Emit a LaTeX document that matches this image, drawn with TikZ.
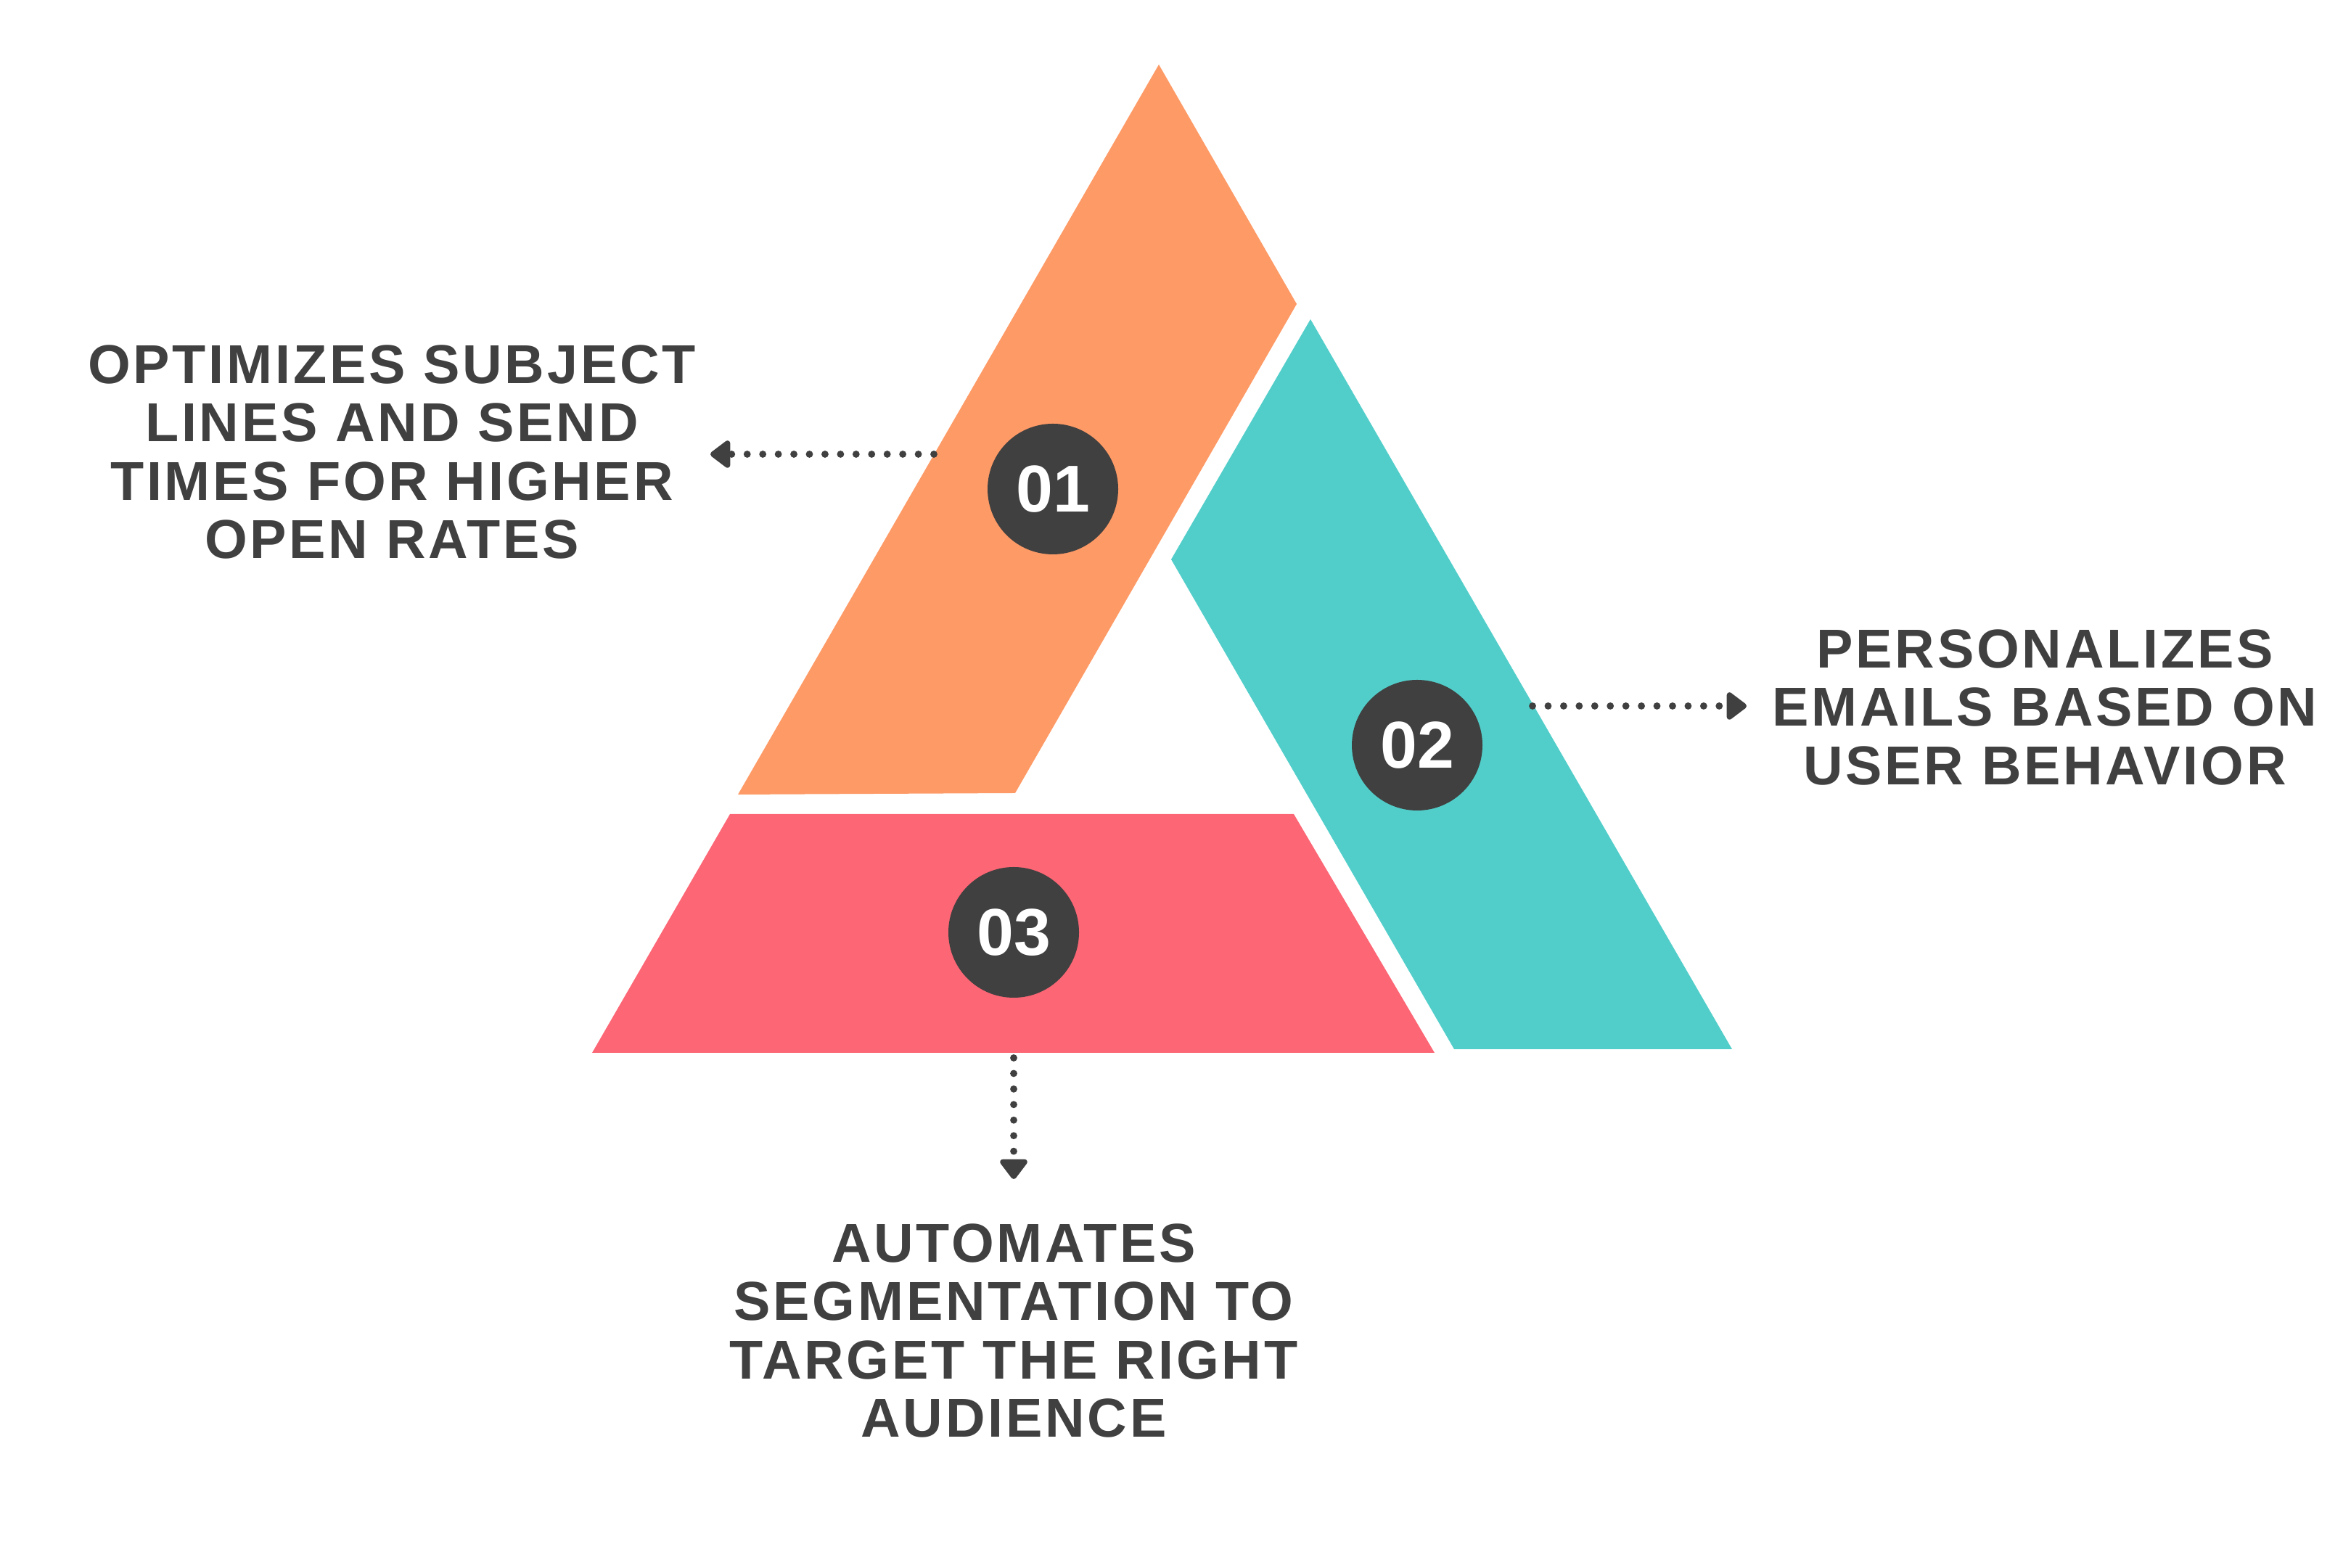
\documentclass[tikz,border=0pt]{standalone}
\usepackage{fontspec}
\setmainfont{Liberation Sans}
\newfontfamily\capfont{Liberation Sans}[LetterSpace=5]
\usetikzlibrary{arrows.meta,positioning,calc}
\definecolor{ink}{RGB}{64,64,64}
\definecolor{peach}{RGB}{254,154,102}
\definecolor{aqua}{RGB}{82,206,202}
\definecolor{coral}{RGB}{252,102,117}
\tikzset{
  badge/.style={circle, fill=ink, text=white, minimum size=18mm, inner sep=0pt,
    font=\fontsize{26}{26}\selectfont\bfseries},
  caption/.style={text=ink, align=center, inner sep=0pt,
    font=\capfont\fontsize{21.5}{22.9}\selectfont\bfseries},
  flow/.style={draw=ink, line width=2.8pt, line cap=round,
    dash pattern=on 0pt off 6.1pt,
    -{Triangle[length=3mm,width=4.3mm,round]}},
}

\begin{document}
\begin{tikzpicture}
  \useasboundingbox (0,0) rectangle (32.4,21.6);
  % three pieces of the broken triangle
  \fill[peach] (15.97,20.71) -- (17.87,17.41) -- (13.99,10.67) -- (10.17,10.65) -- cycle;
  \fill[aqua] (18.06,17.20) -- (23.87,7.14) -- (20.04,7.14) -- (16.14,13.89) -- cycle;
  \fill[coral] (10.06,10.38) -- (17.83,10.38) -- (19.77,7.09) -- (8.16,7.09) -- cycle;

  \node[badge] (n1) at (14.51,14.86) {01};
  \node[badge] (n2) at (19.53,11.33) {02};
  \node[badge] (n3) at (13.97,8.75) {03};

  \node[caption] (t1) at (5.40,15.37) {OPTIMIZES SUBJECT\\LINES AND SEND\\TIMES FOR HIGHER\\OPEN RATES};
  \node[caption] (t2) at (28.18,11.85) {PERSONALIZES\\EMAILS BASED ON\\USER BEHAVIOR};
  \node[caption] (t3) at (13.97,3.26) {AUTOMATES\\SEGMENTATION TO\\TARGET THE RIGHT\\AUDIENCE};

  \coordinate (a1) at (12.87,15.34);
  \coordinate (b1) at (9.79,15.34);
  \coordinate (a2) at (21.12,11.87);
  \coordinate (b2) at (24.07,11.87);
  \coordinate (a3) at (13.97,7.02);
  \coordinate (b3) at (13.97,5.35);
  \draw[flow] (a1) -- (b1);
  \draw[flow] (a2) -- (b2);
  \draw[flow] (a3) -- (b3);
\end{tikzpicture}
\end{document}
